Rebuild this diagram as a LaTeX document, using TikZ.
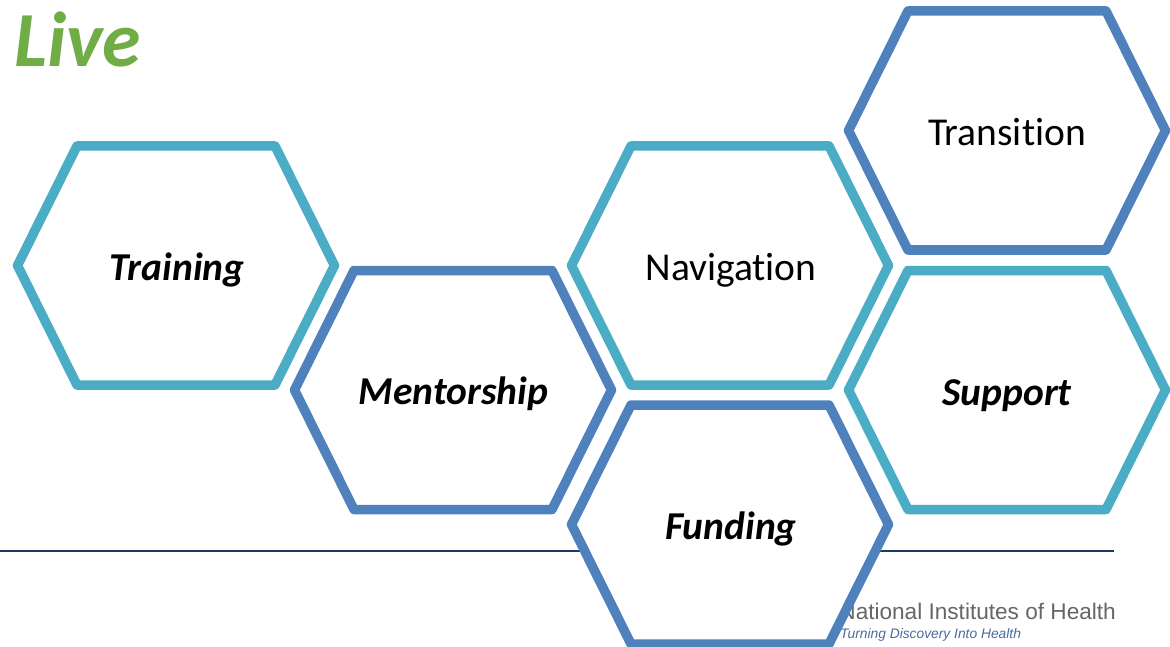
\documentclass[tikz,border=0pt]{standalone}
\usepackage{fontspec}
\setmainfont[Ligatures=CommonOff]{Carlito}
\newfontfamily\nihfont{Liberation Sans}
\definecolor{hexteal}{HTML}{4BACC6}
\definecolor{hexblue}{HTML}{4F81BD}
\definecolor{livegreen}{HTML}{70AD47}
\definecolor{rulenavy}{HTML}{1F3864}
\definecolor{nihgray}{HTML}{666666}
\definecolor{nihblue}{HTML}{4A6A9C}
\tikzset{
  hexline/.style={draw=#1,fill=white,line width=9.5pt,line join=round},
  hexlabel/.style={inner sep=0pt,font=\fontsize{39.5}{44}\selectfont\color{black}},
  hexlabelem/.style={hexlabel,font=\fontsize{39.5}{44}\selectfont\bfseries\itshape\color{black}},
}
% #1 centre x, #2 centre y, #3 colour
\newcommand{\hexshape}[3]{%
  \draw[hexline=#3] (#1-158.5,#2) -- (#1-99,#2-119.5) -- (#1+99,#2-119.5) -- (#1+158.5,#2)
    -- (#1+99,#2+119.5) -- (#1-99,#2+119.5) -- cycle;}
\begin{document}
\begin{tikzpicture}[x=1pt,y=-1pt]
\useasboundingbox (0,0) rectangle (1170,647);
\node[anchor=base west,inner sep=0pt,font=\fontsize{78}{86}\selectfont\bfseries\itshape,text=livegreen] (live) at (14,67) {Live};
\coordinate (ruleL) at (0,551);
\coordinate (ruleR) at (1114,551);
\draw[rulenavy,line width=1.2pt] (ruleL) -- (ruleR);
\node[anchor=base east,inner sep=0pt,font=\nihfont\fontsize{22.6}{26}\selectfont,text=nihgray] (nih) at (1116,619) {National Institutes of Health};
\node[anchor=base west,inner sep=0pt,font=\nihfont\itshape\fontsize{13.8}{16}\selectfont,text=nihblue] (nihtag) at (840,638) {Turning Discovery Into Health};
\hexshape{176}{265.5}{hexteal}
\hexshape{453}{390}{hexblue}
\hexshape{730}{265.5}{hexteal}
\hexshape{730}{524.5}{hexblue}
\hexshape{1007}{130.5}{hexblue}
\hexshape{1007}{390}{hexteal}
\node[hexlabelem] (training) at (177,270) {Training};
\node[hexlabelem] (mentorship) at (453.5,394) {Mentorship};
\node[hexlabel] (navigation) at (731,270) {Navigation};
\node[hexlabelem] (funding) at (731,529) {Funding};
\node[hexlabel] (transition) at (1007,132) {Transition};
\node[hexlabelem] (support) at (1007,396) {Support};
\end{tikzpicture}
\end{document}
